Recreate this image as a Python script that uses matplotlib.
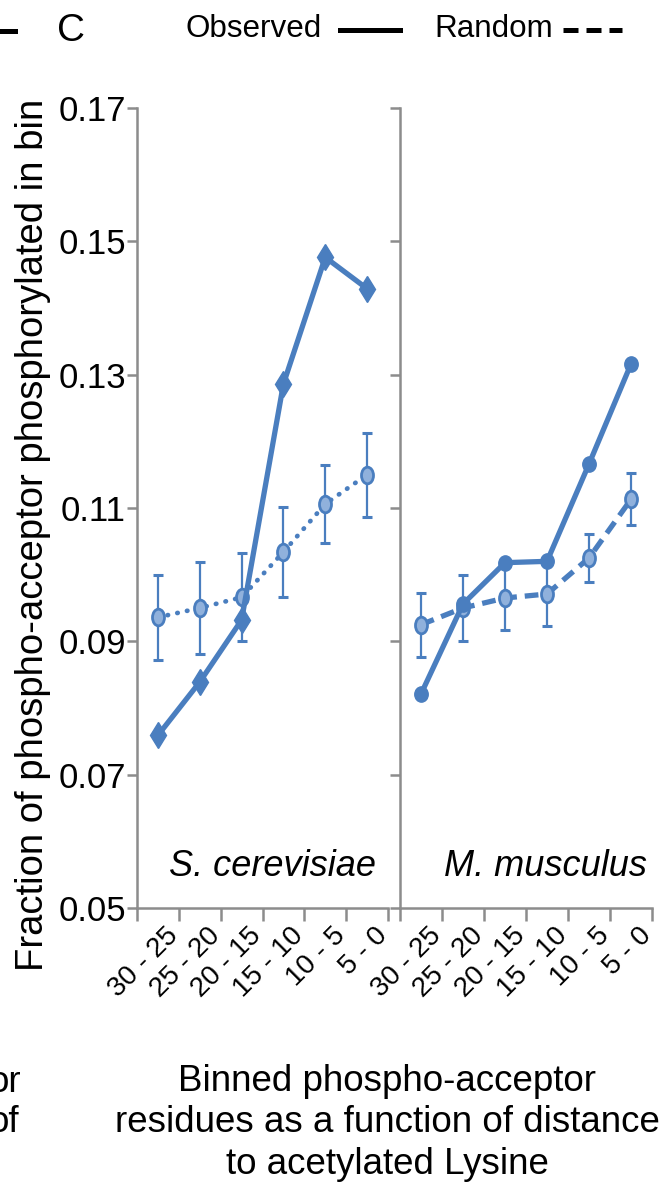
import numpy as np
import matplotlib
matplotlib.use("Agg")
import matplotlib.pyplot as plt
from matplotlib import font_manager
from matplotlib.lines import Line2D
from matplotlib.path import Path
from matplotlib.transforms import Affine2D, ScaledTranslation

# ---------------- data ----------------
bins = ["30 - 25", "25 - 20", "20 - 15", "15 - 10", "10 - 5", "5 - 0"]
species = ["S. cerevisiae", "M. musculus"]

sc_observed = [0.0759, 0.0839, 0.0932, 0.1286, 0.1476, 0.1429]
sc_random = [0.0936, 0.0950, 0.0966, 0.1034, 0.1106, 0.1150]
sc_random_err = [0.0064, 0.0069, 0.0066, 0.0068, 0.0059, 0.0063]

mm_observed = [0.0821, 0.0956, 0.1018, 0.1020, 0.1166, 0.1316]
mm_random = [0.0925, 0.0950, 0.0965, 0.0971, 0.1025, 0.1113]
mm_random_err = [0.0048, 0.0050, 0.0048, 0.0048, 0.0036, 0.0039]

yticks = [0.05, 0.07, 0.09, 0.11, 0.13, 0.15, 0.17]

# ---------------- style ----------------
avail = {f.name for f in font_manager.fontManager.ttflist}
BASE = "Liberation Sans" if "Liberation Sans" in avail else "DejaVu Sans"
NARROW = "Liberation Sans Narrow" if "Liberation Sans Narrow" in avail else BASE
narrow_scale = 1.0 if NARROW != BASE else 0.82
plt.rcParams["font.family"] = [BASE, "DejaVu Sans"]

BLUE = "#4a7ebf"
LIGHT = "#90b1dc"
GRAY = "#8c8c8c"

W, H = 667, 1188
fig = plt.figure(figsize=(W / 100, H / 100), dpi=100)

def ax_rect(x0, x1, y0, y1):
    return [x0 / W, 1 - y1 / H, (x1 - x0) / W, (y1 - y0) / H]

ax1 = fig.add_axes(ax_rect(137, 388, 108, 908))
ax2 = fig.add_axes(ax_rect(400, 652, 108, 908))

ell_tall = Path.unit_circle().transformed(Affine2D().scale(0.72, 1.0))
ell_obs = Path.unit_circle().transformed(Affine2D().scale(0.88, 1.0))

xpos = np.arange(len(bins)) + 0.5

def setup(ax, show_labels):
    ax.set_xlim(0, len(bins))
    ax.set_ylim(0.05, 0.17)
    for s in ["top", "right"]:
        ax.spines[s].set_visible(False)
    for s in ["left", "bottom"]:
        ax.spines[s].set_color(GRAY)
        ax.spines[s].set_linewidth(1.8)
    ax.set_yticks(yticks)
    if show_labels:
        ax.set_yticklabels([f"{v:.2f}" for v in yticks], fontsize=25)
    else:
        ax.set_yticklabels([])
    ax.tick_params(axis="y", direction="out", length=7, width=1.8, color=GRAY, pad=1)
    ax.set_xticks(np.arange(len(bins) + 1))
    ax.set_xticklabels([])
    ax.tick_params(axis="x", which="major", direction="out", length=9, width=1.8, color=GRAY)
    ax.set_xticks(xpos, minor=True)
    ax.set_xticklabels(bins, minor=True, fontsize=20, rotation=45,
                       ha="right", va="center", rotation_mode="anchor")
    ax.tick_params(axis="x", which="minor", length=0, pad=0)
    off = ScaledTranslation(16 / 100, -24 / 100, fig.dpi_scale_trans)
    for lab in ax.get_xticklabels(minor=True):
        lab.set_transform(lab.get_transform() + off)
    ax.patch.set_alpha(0)

setup(ax1, True)
setup(ax2, False)

# left panel: S. cerevisiae
ax1.plot(xpos, sc_random, linestyle=(0, (0.1, 2.0)), dash_capstyle="round",
         lw=3.4, color=BLUE, zorder=2)
ax1.errorbar(xpos, sc_random, yerr=sc_random_err, fmt="none", ecolor=BLUE,
             elinewidth=1.6, capsize=3.6, capthick=2.2, zorder=3)
ax1.plot(xpos, sc_random, linestyle="none", marker=ell_tall, ms=12,
         mfc=LIGHT, mec=BLUE, mew=2, zorder=4)
ax1.plot(xpos, sc_observed, "-", lw=3.8, color=BLUE, marker="d", ms=13,
         mfc=BLUE, mec=BLUE, zorder=5)

# right panel: M. musculus
ax2.plot(xpos, mm_random, linestyle=(0, (2.6, 1.5)), lw=3.8, color=BLUE, zorder=2)
ax2.errorbar(xpos, mm_random, yerr=mm_random_err, fmt="none", ecolor=BLUE,
             elinewidth=1.6, capsize=3.6, capthick=2.2, zorder=3)
ax2.plot(xpos, mm_random, linestyle="none", marker=ell_tall, ms=12,
         mfc=LIGHT, mec=BLUE, mew=2, zorder=4)
ax2.plot(xpos, mm_observed, "-", lw=3.8, color=BLUE, marker=ell_obs, ms=11,
         mfc=BLUE, mec=BLUE, zorder=5)

ax1.text(0.953, 0.052, species[0], transform=ax1.transAxes, ha="right",
         va="center", fontsize=26, style="italic")
ax2.text(0.98, 0.052, species[1], transform=ax2.transAxes, ha="right",
         va="center", fontsize=26, style="italic")

# y label
fig.text(33 / W, 1 - 535 / H, "Fraction of phospho-acceptor phosphorylated in bin",
         rotation=90, ha="center", va="center", fontsize=27.5)

# x label (bottom)
fig.text(387 / W, 1 - 1123 / H,
         "Binned phospho-acceptor\nresidues as a function of distance\nto acetylated Lysine",
         ha="center", va="center", fontsize=26.5, linespacing=1.24)

# fragments of neighbouring panel (cut at the edge, as in the source image)
fig.text(21 / W, 1 - 1083 / H, "or", ha="right", va="center", fontsize=26.5)
fig.text(19 / W, 1 - 1123 / H, "of", ha="right", va="center", fontsize=26.5)
fig.add_artist(Line2D([0 / W, 15 / W], [1 - 31 / H, 1 - 31 / H], color="black",
                      lw=3.6, transform=fig.transFigure))

# panel letter + legend
fig.text(71 / W, 1 - 31 / H, "C", ha="center", va="center",
         fontsize=34 * narrow_scale, family=[NARROW, "DejaVu Sans"])
fig.text(254 / W, 1 - 29 / H, "Observed", ha="center", va="center",
         fontsize=27.5 * narrow_scale, family=[NARROW, "DejaVu Sans"])
fig.add_artist(Line2D([340 / W, 400 / W], [1 - 30 / H, 1 - 30 / H], color="black",
                      lw=3.6, transform=fig.transFigure))
fig.text(494 / W, 1 - 29 / H, "Random", ha="center", va="center",
         fontsize=27.5 * narrow_scale, family=[NARROW, "DejaVu Sans"])
fig.add_artist(Line2D([563 / W, 622 / W], [1 - 30 / H, 1 - 30 / H], color="black",
                      lw=3.6, linestyle=(0, (3.0, 1.6)), transform=fig.transFigure))

fig.savefig("out.png", dpi=100)
